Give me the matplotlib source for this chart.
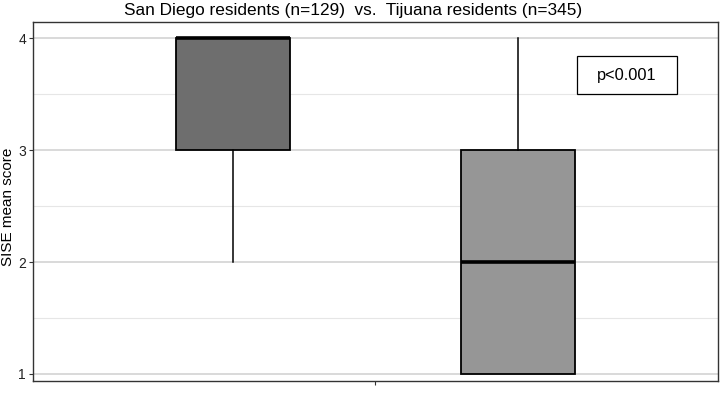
import matplotlib
matplotlib.use("Agg")
import matplotlib.pyplot as plt
from matplotlib.patches import Rectangle

plt.rcParams['font.family'] = ['Liberation Sans', 'DejaVu Sans']

groups = ["San Diego residents", "Tijuana residents"]
whislo = [2.0, 1.0]
q1 = [3.0, 1.0]
med = [4.0, 2.0]
q3 = [4.0, 3.0]
whishi = [4.0, 4.0]
fills = ["#6e6e6e", "#969696"]
positions = [-0.416, 0.416]
title = "San Diego residents (n=129)  vs.  Tijuana residents (n=345)"
ptext = "p<0.001"

fig = plt.figure(figsize=(7.2, 3.96), dpi=100)
ax = fig.add_axes([33/720, 1-381/396, 685/720, (381-22)/396])

stats = [dict(label=g, whislo=a, q1=b, med=c, q3=d, whishi=e)
         for g, a, b, c, d, e in zip(groups, whislo, q1, med, q3, whishi)]
bp = ax.bxp(stats, positions=positions, widths=0.333, patch_artist=True,
            showfliers=False, showcaps=False,
            boxprops=dict(edgecolor='black', linewidth=1.3),
            whiskerprops=dict(color='black', linewidth=1.1),
            medianprops=dict(color='black', linewidth=2.6, solid_capstyle='butt'),
            zorder=3)
for patch, c in zip(bp['boxes'], fills):
    patch.set_facecolor(c)

ax.set_xlim(-1, 1)
ax.set_ylim(0.937, 4.146)
ax.set_xticks([0])
ax.set_xticklabels([""])
ax.set_yticks([1, 2, 3, 4])
ax.set_yticks([1.5, 2.5, 3.5], minor=True)
ax.tick_params(axis='y', which='minor', length=0)
ax.tick_params(axis='both', which='major', length=3, color='#333333', labelsize=10,
               labelcolor='#222222', pad=2)
ax.grid(axis='y', which='major', color='#d0d0d0', linewidth=1.1, zorder=0)
ax.grid(axis='y', which='minor', color='#e6e6e6', linewidth=0.8, zorder=0)
ax.set_axisbelow(True)
for s in ax.spines.values():
    s.set_color('#333333')
    s.set_linewidth(1.0)

ax.set_ylabel("SISE mean score", fontsize=11)
ax.yaxis.set_label_coords(-0.027, 0.485)
fig.text(0.49, 1-10/396, title, ha='center', va='center', fontsize=12.4)

ax.add_patch(Rectangle((0.588, 3.499), 0.292, 0.34, facecolor='white',
                       edgecolor='black', linewidth=0.9, zorder=4))
ax.text(0.734, 3.669, ptext, ha='center', va='center', fontsize=11.8, zorder=5)

fig.savefig("out.png", dpi=100)
